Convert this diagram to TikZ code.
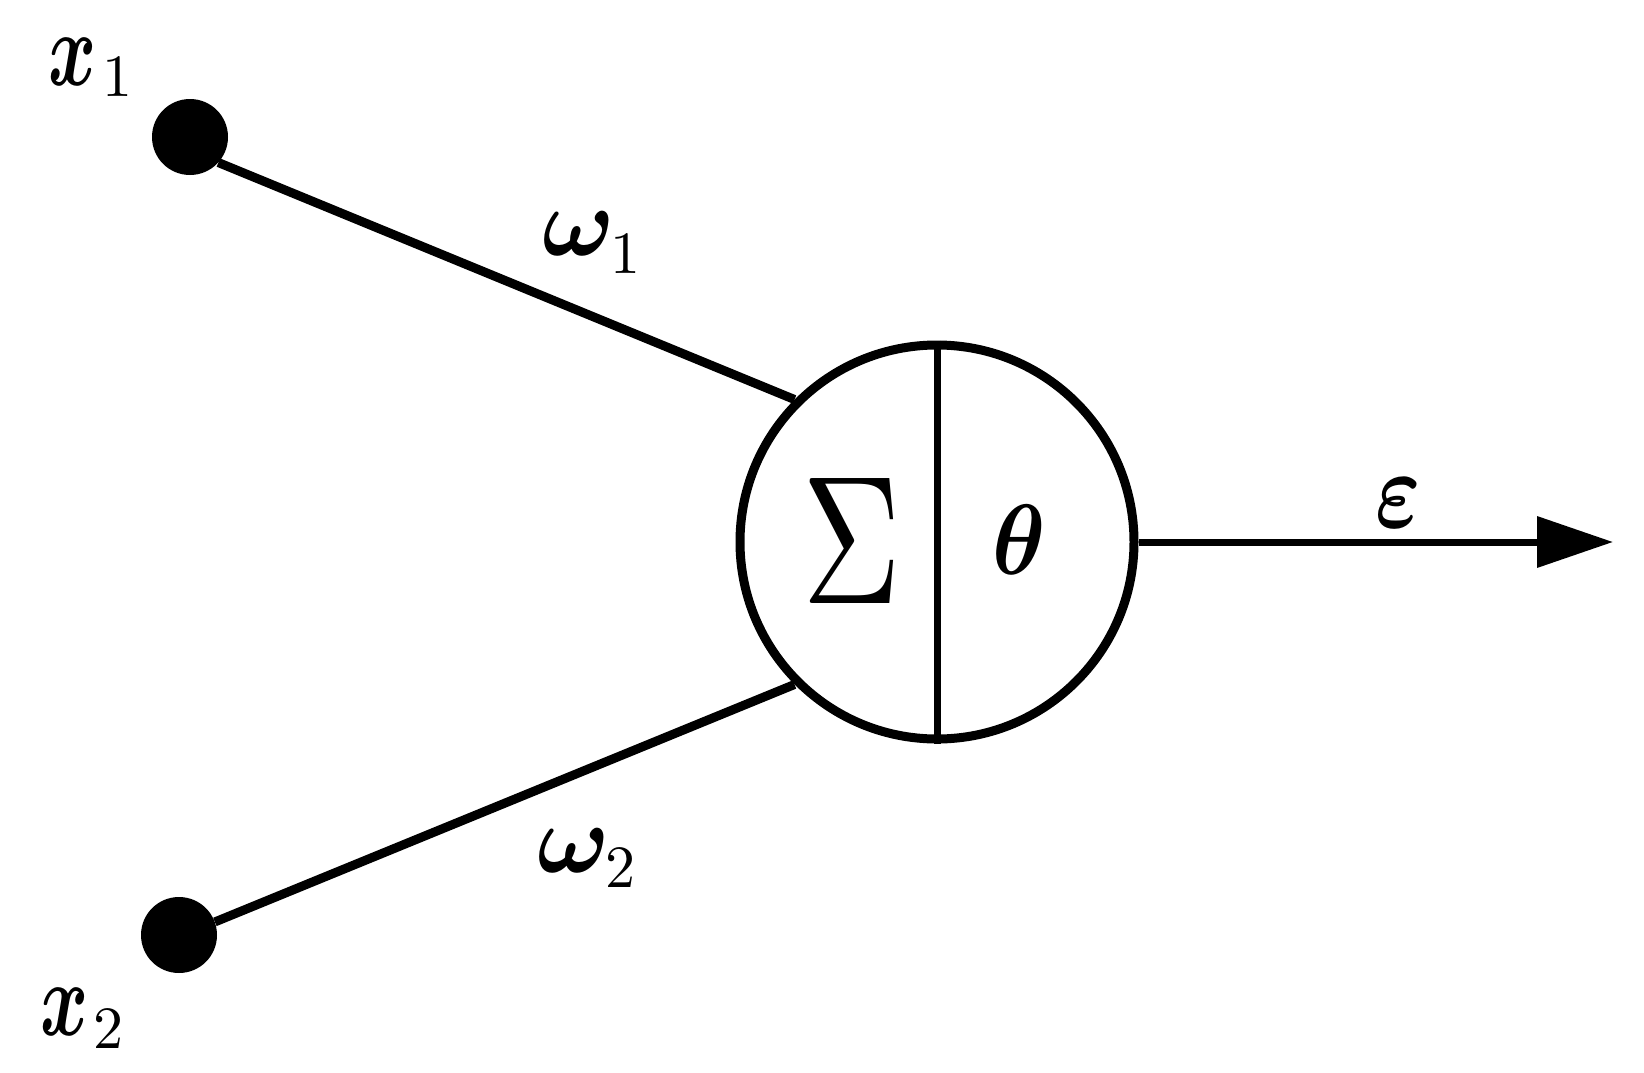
\documentclass[tikz,border=0pt]{standalone}
\usetikzlibrary{arrows.meta}
\newcommand\subsc[2]{\raisebox{-#1}{\scalebox{6}{#2}}}
\newcommand\bm[1]{{\boldmath$#1$}}
\tikzset{
  lbl/.style={inner sep=0pt, outer sep=0pt, anchor=base west, font=\normalsize},
  inputdot/.style={circle, fill=black, inner sep=0pt, minimum size=76pt},
  neuronbox/.style={circle, draw=black, line width=9pt, inner sep=0pt, minimum size=394pt},
  wire/.style={line width=9pt},
  thinwire/.style={line width=7pt},
}
\begin{document}
\begin{tikzpicture}[x=1pt,y=-1pt]
\useasboundingbox[fill=white] (0,0) rectangle (1644,1073);
\node[inputdot] (x1dot) at (190,137) {};
\node[inputdot] (x2dot) at (179,935) {};
\node[neuronbox] (neuron) at (937,542) {};
\coordinate (tip) at (1613,542);
\draw[wire] (x1dot.-42) -- (neuron.135);
\draw[wire] (x2dot.20) -- (neuron.-135);
\draw[thinwire] (neuron.north) -- (neuron.south);
\draw[thinwire, -{Triangle[length=76pt,width=50pt]}] (neuron.east) -- (tip);
\node[lbl] (lx1) at (48,85) {\scalebox{7.3}[10.6]{\bm{x}}\hspace{6pt}\subsc{12pt}{1}};
\node[lbl] (lx2) at (40,1035) {\scalebox{7.3}[10.6]{\bm{x}}\hspace{5pt}\subsc{13pt}{2}};
\node[lbl] (lw1) at (542,255) {\scalebox{9.6}[9.8]{\bm{\omega}}\hspace{-4pt}\subsc{18pt}{1}};
\node[lbl] (lw2) at (537,872) {\scalebox{9.6}[9.8]{\bm{\omega}}\hspace{-4pt}\subsc{15pt}{2}};
\node[lbl] (lsum) at (802,603) {\scalebox{13.7}[18.3]{$\Sigma$}};
\node[lbl] (ltheta) at (992,574) {\scalebox{9}[10]{\bm{\theta}}};
\node[lbl] (leps) at (1375,527) {\scalebox{8.6}[11]{\bm{\varepsilon}}};
\end{tikzpicture}
\end{document}
